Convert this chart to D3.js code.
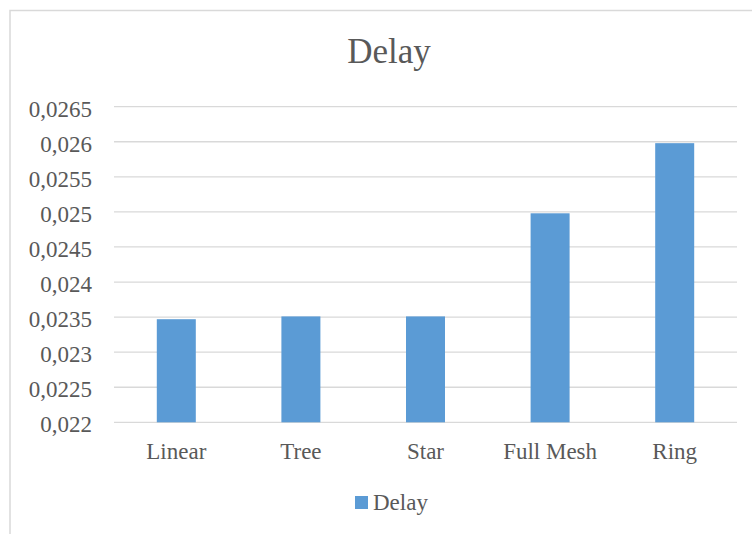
<!DOCTYPE html>
<html>
<head>
<meta charset="utf-8">
<script src="https://cdn.jsdelivr.net/npm/d3@7"></script>
<style>
  html, body { margin: 0; padding: 0; background: #fff; }
  svg { display: block; }
  text { font-family: "Liberation Serif", "Times New Roman", serif; fill: #595959; }
</style>
</head>
<body>
<svg id="chart" width="752" height="534"></svg>
<script>
const categories = ["Linear", "Tree", "Star", "Full Mesh", "Ring"];
const seriesName = "Delay";
const delayValues = [0.02347, 0.02351, 0.02351, 0.02498, 0.02598];
const yTicks = [0.022, 0.0225, 0.023, 0.0235, 0.024, 0.0245, 0.025, 0.0255, 0.026, 0.0265];
const yTickLabels = ["0,022", "0,0225", "0,023", "0,0235", "0,024", "0,0245", "0,025", "0,0255", "0,026", "0,0265"];
const chartTitle = "Delay";

const W = 752, H = 534;
const svg = d3.select("#chart");
const margin = { left: 114, right: 15, top: 106.7, bottom: 111.7 };
const plotW = W - margin.left - margin.right;
const plotH = H - margin.top - margin.bottom;

// outer frame
svg.append("rect")
  .attr("x", 10).attr("y", 10.5)
  .attr("width", 760).attr("height", 540)
  .attr("fill", "none").attr("stroke", "#D9D9D9").attr("stroke-width", 1.5);

const g = svg.append("g").attr("transform", `translate(${margin.left},${margin.top})`);

const x = d3.scaleBand().domain(categories).range([0, plotW]).paddingInner(0.687).paddingOuter(0.3435);
const y = d3.scaleLinear().domain([0.022, 0.0265]).range([plotH, 0]);

// gridlines
g.append("g")
  .selectAll("line")
  .data(yTicks)
  .join("line")
  .attr("x1", 0).attr("x2", plotW)
  .attr("y1", d => y(d)).attr("y2", d => y(d))
  .attr("stroke", "#D9D9D9").attr("stroke-width", 1.3);

// y axis labels
const yAxis = d3.axisLeft(y).tickValues(yTicks)
  .tickFormat((d, i) => yTickLabels[i]).tickSize(0).tickPadding(22);
const yg = g.append("g").call(yAxis);
yg.select(".domain").remove();
yg.selectAll("text")
  .attr("font-size", 23)
  .attr("dy", "0.42em")
  .style("font-family", '"Liberation Serif", "Times New Roman", serif')
  .attr("fill", "#595959");

// bars
g.append("g")
  .selectAll("rect")
  .data(delayValues)
  .join("rect")
  .attr("x", (d, i) => x(categories[i]))
  .attr("width", x.bandwidth())
  .attr("y", d => y(d))
  .attr("height", d => plotH - y(d))
  .attr("fill", "#5B9BD5");

// x axis labels
const xAxis = d3.axisBottom(x).tickSize(0).tickPadding(20);
const xg = g.append("g").attr("transform", `translate(0,${plotH})`).call(xAxis);
xg.select(".domain").remove();
xg.selectAll("text")
  .attr("font-size", 23)
  .style("font-family", '"Liberation Serif", "Times New Roman", serif')
  .attr("fill", "#595959");

// title
svg.append("text")
  .attr("x", 389).attr("y", 63)
  .attr("text-anchor", "middle")
  .attr("font-size", 35)
  .text(chartTitle);

// legend
const lg = svg.append("g");
lg.append("rect").attr("x", 355).attr("y", 496).attr("width", 13).attr("height", 13).attr("fill", "#5B9BD5");
lg.append("text").attr("x", 373).attr("y", 510).attr("font-size", 23).text(seriesName);
</script>
</body>
</html>
